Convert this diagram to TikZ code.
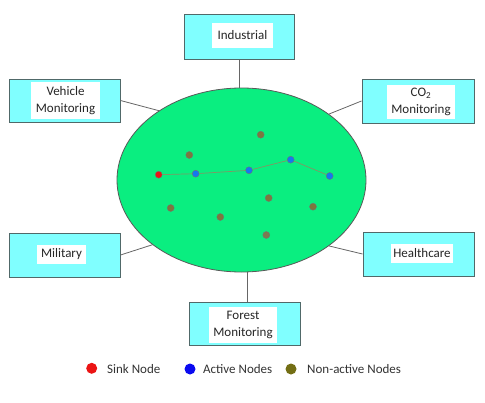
\documentclass[tikz,border=0pt]{standalone}
\usepackage{fontspec}
\setmainfont{Carlito}
\usetikzlibrary{shapes.geometric}
\definecolor{boxfill}{RGB}{128,255,255}
\definecolor{boxline}{RGB}{80,105,105}
\definecolor{fieldfill}{RGB}{10,238,128}
\definecolor{sinkred}{RGB}{235,20,20}
\definecolor{actblue}{RGB}{20,120,240}
\definecolor{nonact}{RGB}{125,120,60}
\definecolor{linkcol}{RGB}{130,150,100}
\definecolor{legblue}{RGB}{10,10,240}
\definecolor{legolive}{RGB}{115,110,20}
\begin{document}
\begin{tikzpicture}[x=1pt,y=-1pt,
  appbox/.style={draw=boxline,line width=1pt,fill=boxfill,inner sep=0pt},
  labelbox/.style={fill=white,inner sep=0pt,align=center,font=\fontsize{13}{17}\selectfont,text=black!85},
  conn/.style={draw=black!60,line width=0.8pt},
  sensor/.style={circle,inner sep=0pt,minimum size=7pt,draw=black!55,line width=0.4pt},
  legdot/.style={circle,inner sep=0pt,minimum size=11pt},
  legtext/.style={anchor=west,inner sep=0pt,font=\fontsize{13}{15}\selectfont,text=black!80}]
\path[use as bounding box] (0,0) rectangle (485,402);

% field
\node[ellipse,draw=black!65,line width=0.8pt,fill=fieldfill,minimum width=249pt,minimum height=184pt,inner sep=0pt] (field) at (241.5,180) {};

% application boxes
\node[appbox,minimum width=110pt,minimum height=45pt] (ind) at (239,36.5) {};
\node[labelbox,minimum width=61pt,minimum height=25pt] (indl) at (242.5,35.5) {Industrial};

\node[appbox,minimum width=111pt,minimum height=43pt] (veh) at (64.5,100.5) {};
\node[labelbox,minimum width=69pt,minimum height=37pt] (vehl) at (65.5,100.5) {Vehicle\\Monitoring};

\node[appbox,minimum width=112pt,minimum height=44pt] (co2) at (418,101) {};
\node[labelbox,minimum width=68pt,minimum height=34pt] (co2l) at (421,102) {CO\textsubscript{2}\\Monitoring};

\node[appbox,minimum width=111pt,minimum height=44pt] (mil) at (64.5,255) {};
\node[labelbox,minimum width=49pt,minimum height=19pt] (mill) at (61.5,254.5) {Military};

\node[appbox,minimum width=111pt,minimum height=44pt] (hea) at (418.5,254) {};
\node[labelbox,minimum width=62pt,minimum height=19pt] (heal) at (422,253.5) {Healthcare};

\node[appbox,minimum width=111pt,minimum height=43pt] (for) at (244.5,323.5) {};
\node[labelbox,minimum width=68pt,minimum height=36pt] (forl) at (243,325) {Forest\\Monitoring};

% connectors
\draw[conn] (ind.south) -- (ind.south |- field.north);
\draw[conn] (for.north) ++(2.5,0) coordinate (fortop) -- (fortop |- field.south);
\draw[conn] (veh.east) -- (field.140.8);
\draw[conn] (co2.west) -- (field.37.8);
\draw[conn] (mil.east) -- (field.216.7);
\draw[conn] (hea.west) -- (field.323.3);

% sensor nodes
\node[sensor,fill=sinkred] (s0) at (158.7,174.7) {};
\node[sensor,fill=actblue] (a1) at (195.7,173.7) {};
\node[sensor,fill=actblue] (a2) at (249,170.3) {};
\node[sensor,fill=actblue] (a3) at (290.7,159.7) {};
\node[sensor,fill=actblue] (a4) at (329.7,176) {};
\draw[draw=linkcol,line width=0.7pt] (s0) -- (a1) -- (a2) -- (a3) -- (a4);

\node[sensor,fill=nonact] (n1) at (260.7,134.7) {};
\node[sensor,fill=nonact] (n2) at (189.3,155) {};
\node[sensor,fill=nonact] (n3) at (268.7,198) {};
\node[sensor,fill=nonact] (n4) at (170.7,208) {};
\node[sensor,fill=nonact] (n5) at (220.3,217) {};
\node[sensor,fill=nonact] (n6) at (313,206.7) {};
\node[sensor,fill=nonact!70!gray] (n7) at (266.3,235) {};

% legend
\node[legdot,fill=sinkred] (l1) at (91.7,368.3) {};
\node[legtext] (t1) at (107,369) {Sink Node};
\node[legdot,fill=legblue] (l2) at (190,369) {};
\node[legtext] (t2) at (203,369.5) {Active Nodes};
\node[legdot,fill=legolive] (l3) at (291,369) {};
\node[legtext] (t3) at (307,369.5) {Non-active Nodes};
\end{tikzpicture}
\end{document}
